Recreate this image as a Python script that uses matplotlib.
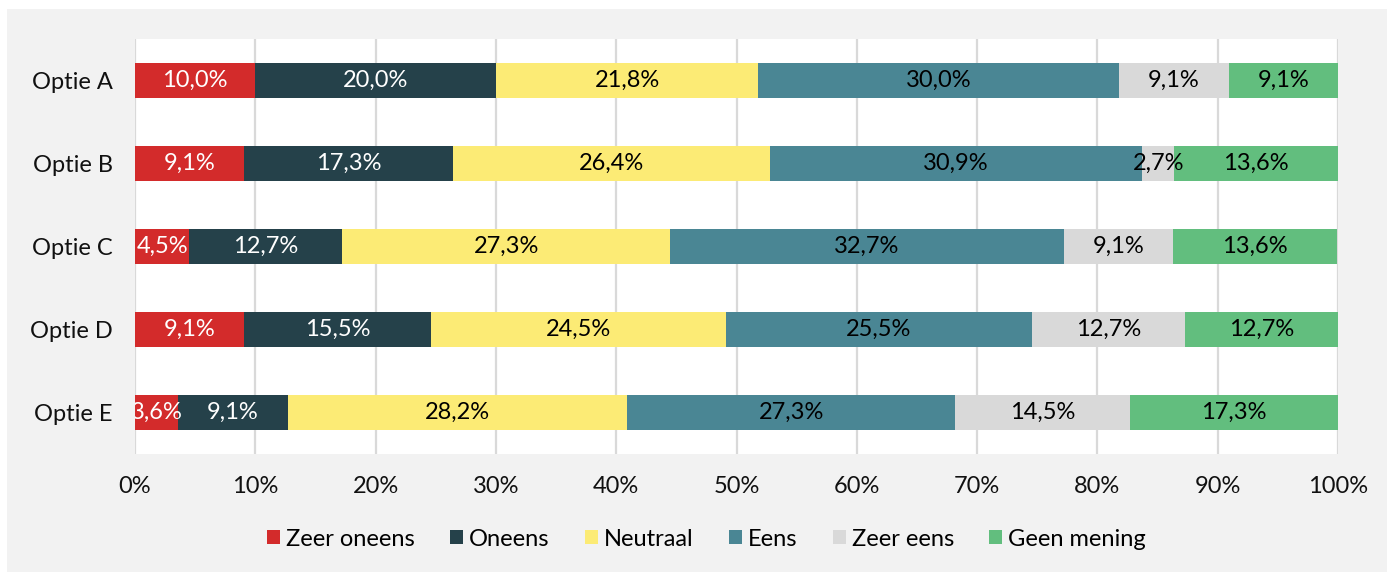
import matplotlib.pyplot as plt
import numpy as np
from matplotlib.patches import Rectangle
from matplotlib.ticker import FuncFormatter

plt.rcParams['font.family'] = ['Lato', 'DejaVu Sans']

categories = ['Optie A', 'Optie B', 'Optie C', 'Optie D', 'Optie E']
series = ['Zeer oneens', 'Oneens', 'Neutraal', 'Eens', 'Zeer eens', 'Geen mening']

zeer_oneens = [10.0, 9.1, 4.5, 9.1, 3.6]
oneens = [20.0, 17.3, 12.7, 15.5, 9.1]
neutraal = [21.8, 26.4, 27.3, 24.5, 28.2]
eens = [30.0, 30.9, 32.7, 25.5, 27.3]
zeer_eens = [9.1, 2.7, 9.1, 12.7, 14.5]
geen_mening = [9.1, 13.6, 13.6, 12.7, 17.3]

values = [zeer_oneens, oneens, neutraal, eens, zeer_eens, geen_mening]
colors = ['#d32b2b', '#25414a', '#fceb75', '#4a8694', '#d9d9d9', '#62be7e']
text_colors = ['white', 'white', 'black', 'black', 'black', 'black']

fig = plt.figure(figsize=(13.87, 5.72), dpi=100)
fig.patch.set_facecolor('white')
# lichtgrijs kader achter de grafiek
fig.patches.append(Rectangle((7 / 1387, 0), 1 - 7 / 1387, 1 - 9 / 572,
                             transform=fig.transFigure, facecolor='#f2f2f2',
                             edgecolor='none', zorder=-10))

ax = fig.add_axes([135 / 1387, 118 / 572, 1203 / 1387, 415 / 572])
ax.set_facecolor('white')

y = np.arange(len(categories))
left = np.zeros(len(categories))
for vals, col, tcol, name in zip(values, colors, text_colors, series):
    vals = np.array(vals)
    ax.barh(y, vals, left=left, height=0.41, color=col, label=name, zorder=3)
    for yi, l, v in zip(y, left, vals):
        ax.text(l + v / 2, yi, f'{v:.1f}%'.replace('.', ','), ha='center', va='center',
                color=tcol, fontsize=17, zorder=4, clip_on=True)
    left += vals

ax.set_xlim(0, 100)
ax.set_ylim(4.5, -0.5)
ax.set_xticks(np.arange(0, 101, 10))
ax.xaxis.set_major_formatter(FuncFormatter(lambda x, p: f'{x:.0f}%'))
ax.set_yticks(y)
ax.set_yticklabels(categories)
ax.tick_params(axis='both', length=0, labelsize=17, colors='#111111')
ax.tick_params(axis='x', pad=16)
ax.tick_params(axis='y', pad=16)
ax.grid(axis='x', color='#d9d9d9', linewidth=1.6, zorder=0)
for s in ax.spines.values():
    s.set_visible(False)

ax.legend(loc='center', bbox_to_anchor=(0.475, -0.205), ncol=6, frameon=False,
          fontsize=17, handlelength=0.55, handleheight=0.55, handletextpad=0.25,
          columnspacing=1.5)

fig.savefig('out.png', dpi=100, facecolor=fig.get_facecolor())
